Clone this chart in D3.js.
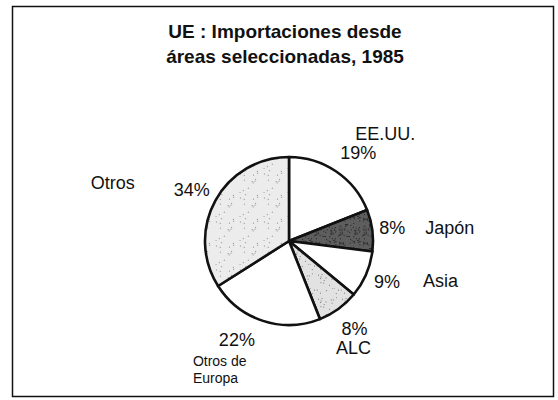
<!DOCTYPE html>
<html>
<head>
<meta charset="utf-8">
<script src="https://cdn.jsdelivr.net/npm/d3@7"></script>
<style>
  body { margin: 0; background: #fff; }
  text { font-family: "Liberation Sans", Arial, Helvetica, sans-serif; fill: #111; }
</style>
</head>
<body>
<div id="chart"></div>
<script>
// data, clockwise from 12 o'clock
var regions = ["EE.UU.", "Japón", "Asia", "ALC", "Otros de Europa", "Otros"];
var shares = [19, 8, 9, 8, 22, 34];
var titleLines = ["UE : Importaciones desde", "áreas seleccionadas, 1985"];

var W = 558, H = 400;
var cx = 289, cy = 241, R = 84;

var svg = d3.select("#chart").append("svg")
  .attr("width", W).attr("height", H);

// stipple textures
var defs = svg.append("defs");
function stipple(id, bg, dot, n, seed) {
  var p = defs.append("pattern").attr("id", id)
    .attr("patternUnits", "userSpaceOnUse").attr("width", 24).attr("height", 24);
  p.append("rect").attr("width", 24).attr("height", 24).attr("fill", bg);
  var s = seed;
  for (var i = 0; i < n; i++) {
    // simple deterministic hash for dot placement (texture only)
    s = (s * 9301 + 49297) % 233280;
    var x = s / 233280 * 24;
    s = (s * 9301 + 49297) % 233280;
    var y = s / 233280 * 24;
    p.append("rect").attr("x", x).attr("y", y).attr("width", 1).attr("height", 1).attr("fill", dot);
  }
}
stipple("light", "#ececec", "#8a8a8a", 14, 7);
stipple("alc", "#e2e2e2", "#7a7a7a", 20, 31);
stipple("dark", "#5e5e5e", "#222", 70, 13);

var fills = {
  "EE.UU.": "#fff", "Japón": "url(#dark)", "Asia": "#fff",
  "ALC": "url(#alc)", "Otros de Europa": "#fff", "Otros": "url(#light)"
};

// frame
svg.append("rect").attr("x", 12.5).attr("y", 6.5).attr("width", 541).attr("height", 390)
  .attr("fill", "none").attr("stroke", "#111").attr("stroke-width", 1.5);

// title
svg.selectAll("text.title").data(titleLines).enter().append("text")
  .attr("class", "title")
  .attr("x", 285).attr("y", function(d, i) { return 38 + i * 25; })
  .attr("text-anchor", "middle")
  .style("font-weight", "bold").style("font-size", "19px")
  .text(function(d) { return d; });

var pie = d3.pie().sort(null).value(function(d) { return d; });
var arcs = pie(shares);
var arc = d3.arc().innerRadius(0).outerRadius(R);

var g = svg.append("g").attr("transform", "translate(" + cx + "," + cy + ")");
g.selectAll("path").data(arcs).enter().append("path")
  .attr("d", arc)
  .attr("fill", function(d, i) { return fills[regions[i]]; })
  .attr("stroke", "#111").attr("stroke-width", 2.6).attr("stroke-linejoin", "round");

// label placement: radius and angle shift for the percentage, name offset from it
var layout = {
  "EE.UU.":          { r: 112, da: 4,  lines: [{ t: "EE.UU.", dx: 27, dy: -13, a: "middle", fs: 18 }] },
  "Japón":           { r: 104, da: 0,  lines: [{ t: "Japón", dx: 33, dy: 6, a: "start", fs: 18 }] },
  "Asia":            { r: 106, da: -1, lines: [{ t: "Asia", dx: 36, dy: 6, a: "start", fs: 18 }] },
  "ALC":             { r: 109, da: -1, lines: [{ t: "ALC", dx: -1, dy: 26, a: "middle", fs: 18 }] },
  "Otros de Europa": { r: 111, da: 10, lines: [{ t: "Otros de", dx: -44, dy: 27, a: "start", fs: 14 },
                                               { t: "Europa", dx: -44, dy: 44, a: "start", fs: 14 }] },
  "Otros":           { r: 110, da: -1, lines: [{ t: "Otros", dx: -101, dy: -1, a: "start", fs: 18 }] }
};

var labels = g.selectAll("g.lab").data(arcs).enter().append("g")
  .attr("class", "lab")
  .attr("transform", function(d, i) {
    var L = layout[regions[i]];
    var a = (d.startAngle + d.endAngle) / 2 + L.da * Math.PI / 180;
    return "translate(" + (L.r * Math.sin(a)) + "," + (-L.r * Math.cos(a)) + ")";
  });

labels.append("text")
  .attr("text-anchor", "middle").attr("dy", 6.5)
  .style("font-size", "18px")
  .text(function(d) { return d.data + "%"; });

labels.each(function(d, i) {
  var L = layout[regions[i]];
  d3.select(this).selectAll("text.name").data(L.lines).enter().append("text")
    .attr("class", "name")
    .attr("x", function(l) { return l.dx; })
    .attr("y", function(l) { return l.dy; })
    .attr("text-anchor", function(l) { return l.a; })
    .style("font-size", function(l) { return l.fs + "px"; })
    .text(function(l) { return l.t; });
});
</script>
</body>
</html>
